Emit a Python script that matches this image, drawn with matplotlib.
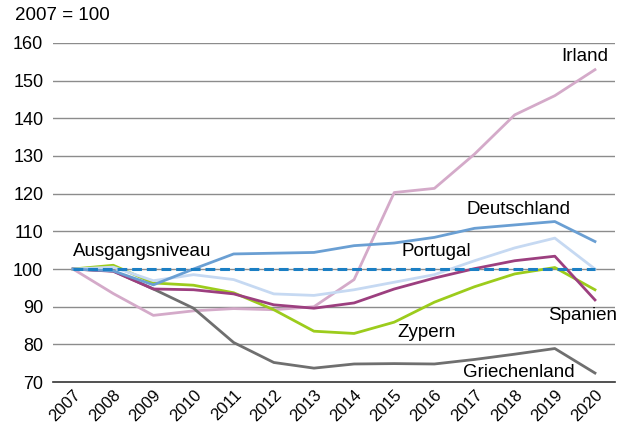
import matplotlib
matplotlib.use('Agg')
import matplotlib.pyplot as plt

plt.rcParams['font.family'] = ['Liberation Sans', 'DejaVu Sans']

years = list(range(2007, 2021))

irland = [100, 93.5, 87.7, 88.9, 89.5, 89.2, 90.0, 97.2, 120.3, 121.4, 130.5, 140.9, 146.0, 152.9]
deutschland = [100, 99.5, 95.8, 100.0, 104.0, 104.2, 104.4, 106.2, 106.9, 108.4, 110.8, 111.7, 112.6, 107.3]
portugal = [100, 100.5, 96.9, 98.5, 97.2, 93.4, 93.0, 94.5, 96.5, 98.5, 102.2, 105.6, 108.2, 100.0]
spanien = [100, 99.4, 94.7, 94.5, 93.4, 90.5, 89.6, 91.0, 94.7, 97.6, 100.1, 102.2, 103.4, 91.8]
zypern = [100, 101.0, 96.3, 95.7, 93.7, 89.2, 83.5, 82.9, 85.9, 91.2, 95.3, 98.7, 100.4, 94.5]
griechenland = [100, 99.5, 94.7, 89.6, 80.5, 75.2, 73.7, 74.8, 74.9, 74.8, 76.0, 77.4, 78.9, 72.4]
ausgangsniveau = [100] * len(years)

fig = plt.figure(figsize=(6.19, 4.25), dpi=100)
ax = fig.add_axes([0.0856, 0.101, 0.908, 0.798])

for v in range(80, 170, 10):
    ax.axhline(v, color='#8c8c8c', linewidth=1.0, zorder=1)

lw = 2.0
ax.plot(years, irland, color='#d4aac9', linewidth=lw, zorder=3)
ax.plot(years, griechenland, color='#6f6f6f', linewidth=lw, zorder=3)
ax.plot(years, zypern, color='#9ccc1c', linewidth=lw, zorder=3)
ax.plot(years, spanien, color='#9c3f7f', linewidth=lw, zorder=3)
ax.plot(years, portugal, color='#c6d9f2', linewidth=lw, zorder=3)
ax.plot(years, deutschland, color='#6a9fd3', linewidth=lw, zorder=3)
ax.plot(years, ausgangsniveau, color='#1b7fc4', linewidth=2.2,
        linestyle=(0, (3.2, 1.6)), zorder=4)

fs = 13.5
ax.text(2019.75, 156.4, 'Irland', fontsize=fs, ha='center', va='center')
ax.text(2018.1, 115.7, 'Deutschland', fontsize=fs, ha='center', va='center')
ax.text(2016.05, 104.6, 'Portugal', fontsize=fs, ha='center', va='center')
ax.text(2007.0, 104.6, 'Ausgangsniveau', fontsize=fs, ha='left', va='center')
ax.text(2015.8, 83.1, 'Zypern', fontsize=fs, ha='center', va='center')
ax.text(2019.7, 87.6, 'Spanien', fontsize=fs, ha='center', va='center')
ax.text(2018.1, 72.5, 'Griechenland', fontsize=fs, ha='center', va='center')
fig.text(15 / 619, 1 - 15 / 425, '2007 = 100', fontsize=fs, ha='left', va='center')

ax.set_xlim(2006.5, 2020.5)
ax.set_ylim(70, 160)
ax.set_yticks(range(70, 170, 10))
ax.set_xticks(years)
ax.set_xticklabels([str(y) for y in years], rotation=45, ha='right',
                   rotation_mode='anchor', fontsize=12)
ax.tick_params(axis='y', labelsize=13, length=0, pad=7)
ax.tick_params(axis='x', length=0, pad=4)

for side in ['top', 'right', 'left']:
    ax.spines[side].set_visible(False)
ax.spines['bottom'].set_color('#333333')
ax.spines['bottom'].set_linewidth(1.2)

fig.savefig('out.png', dpi=100)
